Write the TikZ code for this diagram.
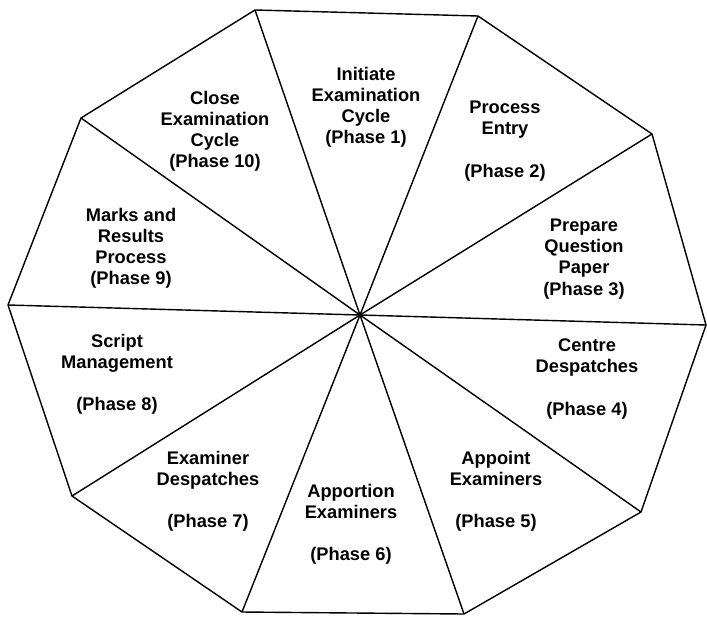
\documentclass[tikz,border=0pt]{standalone}
\usepackage{fontspec}
\setmainfont{Liberation Sans}

\tikzset{
  phase/.style={align=center, font=\bfseries\fontsize{13}{15}\selectfont, inner sep=0pt}
}

\begin{document}
\begin{tikzpicture}[x=0.025cm, y=-0.025cm, line width=1pt] %Ciclo de examenes en diez fases
        \useasboundingbox (0,0) rectangle (707,617);

        \coordinate (O) at (360,315);
        \coordinate (v1) at (255,10);
        \coordinate (v2) at (478,16);
        \coordinate (v3) at (652,134);
        \coordinate (v4) at (706,325);
        \coordinate (v5) at (641,512);
        \coordinate (v6) at (464,614);
        \coordinate (v7) at (242,612);
        \coordinate (v8) at (72,496);
        \coordinate (v9) at (8,305);
        \coordinate (v10) at (81,118);

        \draw (v1) -- (v2) -- (v3) -- (v4) -- (v5) -- (v6) -- (v7) -- (v8) -- (v9) -- (v10) -- cycle;

        \draw (O) -- (v1);
        \draw (O) -- (v2);
        \draw (O) -- (v3);
        \draw (O) -- (v4);
        \draw (O) -- (v5);
        \draw (O) -- (v6);
        \draw (O) -- (v7);
        \draw (O) -- (v8);
        \draw (O) -- (v9);
        \draw (O) -- (v10);

        \node[phase] (p1) at (366,107) {Initiate\\Examination\\Cycle\\(Phase 1)};
        \node[phase] (p2) at (505,141) {Process\\Entry\\[15pt](Phase 2)};
        \node[phase] (p3) at (584,259) {Prepare\\Question\\Paper\\(Phase 3)};
        \node[phase] (p4) at (587,379) {Centre\\Despatches\\[15pt](Phase 4)};
        \node[phase] (p5) at (496,491) {Appoint\\Examiners\\[15pt](Phase 5)};
        \node[phase] (p6) at (351,524) {Apportion\\Examiners\\[15pt](Phase 6)};
        \node[phase] (p7) at (208,491) {Examiner\\Despatches\\[15pt](Phase 7)};
        \node[phase] (p8) at (117,374) {Script\\Management\\[15pt](Phase 8)};
        \node[phase] (p9) at (131,248) {Marks and\\Results\\Process\\(Phase 9)};
        \node[phase] (p10) at (215,131) {Close\\Examination\\Cycle\\(Phase 10)};
    \end{tikzpicture}
\end{document}
